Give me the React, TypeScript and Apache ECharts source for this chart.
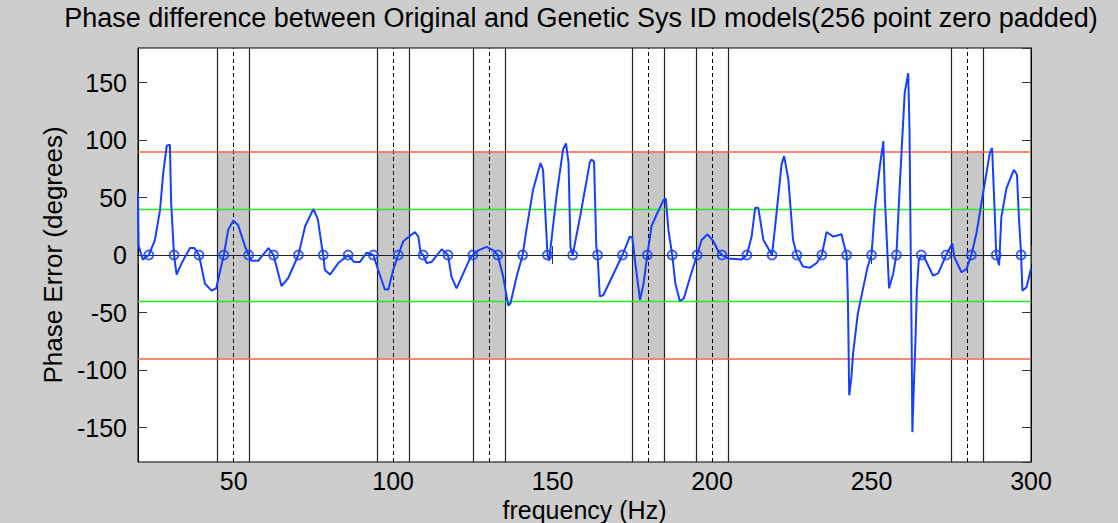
import React, { useEffect, useRef } from "react";
import * as echarts from "echarts";

const titleText = "Phase difference between Original and Genetic Sys ID models(256 point zero padded)";
const xName = "frequency (Hz)";
const yName = "Phase Error (degrees)";

const xRange = [20, 300];
const yRange = [-180, 180];
const tickStep = 50;

// centres of the shaded bands (Hz) and their half width
const bandCenters = [50, 100, 130, 180, 200, 280];
const bandHalfWidth = 5;
const bandLimit = 90;

// horizontal reference levels
const redLevels = [90, -90];
const greenLevels = [40, -40];
const zeroLevel = [0];

// frequencies of the circled points (all at 0 degrees)
const circleFreqs = [
  23.4, 31.3, 39.1, 46.9, 54.7, 62.5, 70.3, 78.1, 85.9, 93.8, 101.6, 109.4,
  117.2, 125.0, 132.8, 140.6, 148.4, 156.3, 164.1, 171.9, 179.7, 187.5, 195.3,
  203.1, 210.9, 218.8, 226.6, 234.4, 242.2, 250.0, 257.8, 265.6, 273.4, 281.3,
  289.1, 296.9,
];

// phase error curve: [frequency, degrees]
const phaseCurve: [number, number][] = [
  [20, 54], [20.2, 8], [21.5, -4], [22.5, -2], [23.4, 0], [25.3, 13], [26.9, 39],
  [27.9, 71], [29.0, 95], [30.0, 96], [30.4, 45], [31.3, 0], [32.1, -17], [33.7, -7],
  [36.3, 6], [37.7, 6], [39.1, 0], [41.0, -25], [43.1, -31], [44.5, -29], [46.9, 0],
  [48.3, 22], [49.9, 30], [51.4, 26], [53.5, 8], [54.7, 0], [55.6, -5], [57.7, -5],
  [60.9, 6], [62.5, 0], [65.0, -27], [67.1, -20], [70.3, 0], [72.4, 25], [75.0, 40],
  [76.4, 31], [77.7, 6], [78.1, 0], [78.6, -13], [80.2, -17], [82.8, -7], [85.9, 0],
  [87.7, -6], [89.6, -6], [91.7, 2], [93.8, 0], [95.3, -13], [97.4, -30], [98.5, -30],
  [100.0, -13], [101.6, 0], [103.2, 12], [106.8, 20], [107.9, 16], [108.6, 2],
  [109.4, 0], [110.5, -7], [112.1, -6], [115.2, 5], [117.2, 0], [118.3, -19],
  [119.9, -29], [122.0, -16], [124.1, -3], [125.0, 0], [126.7, 4], [129.3, 7],
  [131.4, 4], [132.8, 0], [134.5, -19], [136.1, -44], [136.8, -42], [138.7, -19],
  [140.6, 0], [141.8, 22], [143.9, 57], [146.2, 80], [147.0, 74], [147.9, 27],
  [148.4, 0], [148.9, -5], [151.2, 51], [153.3, 92], [154.2, 97], [155.0, 80],
  [155.6, 7], [156.3, 0], [158.6, 33], [161.7, 81], [162.2, 83], [163.0, 81],
  [163.7, 7], [164.1, 0], [164.8, -36], [165.9, -35], [171.9, 0], [174.2, 16],
  [175.0, 15], [175.7, -2], [177.4, -39], [178.5, -25], [179.7, 0], [181.0, 25],
  [182.6, 35], [184.8, 48], [185.5, 49], [186.3, 22], [187.5, 0], [188.5, -25],
  [189.9, -40], [191.1, -38], [193.8, -13], [195.3, 0], [196.7, 13], [198.6, 18],
  [200.4, 12], [202.0, 3], [203.1, 0], [205.0, -3], [209.3, -4], [210.9, 0],
  [212.4, 16], [213.5, 41], [214.5, 41], [216.1, 13], [218.8, 0], [220.2, 36],
  [221.8, 79], [222.6, 86], [223.9, 66], [225.4, 13], [226.6, 0], [228.5, -10],
  [230.7, -11], [232.8, -7], [234.4, 0], [235.9, 20], [238.0, 16], [240.6, 18],
  [241.1, 12], [242.2, 0], [242.6, -39], [243.0, -122], [243.7, -106], [244.2, -86],
  [245.7, -51], [247.2, -31], [248.8, -10], [250.0, 0], [251.0, 39], [252.6, 77],
  [253.7, 99], [254.2, 48], [255.5, -29], [256.8, -16], [257.8, 0], [258.9, 63],
  [260.4, 141], [261.5, 158], [261.9, 110], [262.3, 0], [262.6, -80], [262.8, -154],
  [263.2, -120], [263.8, -72], [264.2, -31], [264.8, -5], [265.6, 0], [266.5, -2],
  [269.3, -18], [270.9, -16], [273.4, 0], [275.3, 10], [276.0, -2], [278.2, -15],
  [279.8, -12], [281.3, 0], [282.9, 19], [285.0, 54], [287.1, 89], [287.8, 93],
  [288.6, 39], [289.1, 0], [290.0, -9], [290.7, 33], [292.3, 58], [294.6, 74],
  [295.6, 70], [296.2, 33], [296.9, 0], [297.3, -31], [298.6, -28], [300, -12],
];

const FONT = "'Liberation Sans', Arial, Helvetica, sans-serif";
const BLUE = "#1540ff";

export default function App() {
  const ref = useRef<HTMLDivElement>(null);

  useEffect(() => {
    if (!ref.current) return;
    const chart = echarts.init(ref.current, undefined, { renderer: "svg" });

    const axisCommon = {
      type: "value" as const,
      minInterval: tickStep,
      maxInterval: tickStep,
      splitNumber: 7,
      splitLine: { show: false },
      axisLine: { show: true, lineStyle: { color: "#000", width: 1 } },
      axisTick: { show: true, inside: true, length: 9, lineStyle: { color: "#333", width: 1 } },
    };

    const solidEdges: number[] = [];
    bandCenters.forEach((c) => {
      solidEdges.push(c - bandHalfWidth, c + bandHalfWidth);
    });

    const option: any = {
      animation: false,
      backgroundColor: "#cdcdcd",
      grid: {
        left: 138,
        right: 87,
        top: 48,
        bottom: 61,
        containLabel: false,
        outerBoundsMode: "none",
        show: true,
        backgroundColor: "#ffffff",
        borderColor: "#000",
        borderWidth: 1,
      },
      graphic: [
        {
          type: "text",
          x: 581,
          y: 18,
          style: {
            text: titleText,
            textAlign: "center",
            textVerticalAlign: "middle",
            font: `27px ${FONT}`,
            fill: "#000",
          },
        },
      ],
      xAxis: [
        {
          ...axisCommon,
          min: xRange[0],
          max: xRange[1],
          position: "bottom",
          name: xName,
          nameLocation: "middle",
          nameGap: 25,
          nameTextStyle: { fontFamily: FONT, fontSize: 25, color: "#000" },
          axisLabel: {
            show: true,
            showMinLabel: false,
            margin: 6,
            fontFamily: FONT,
            fontSize: 25,
            color: "#000",
          },
        },
        {
          ...axisCommon,
          min: xRange[0],
          max: xRange[1],
          position: "top",
          axisLabel: { show: false },
        },
      ],
      yAxis: [
        {
          ...axisCommon,
          min: yRange[0],
          max: yRange[1],
          position: "left",
          name: yName,
          nameLocation: "middle",
          nameRotate: 90,
          nameGap: 60,
          nameTextStyle: { fontFamily: FONT, fontSize: 26, color: "#000" },
          axisLabel: {
            show: true,
            showMinLabel: false,
            showMaxLabel: false,
            margin: 11,
            fontFamily: FONT,
            fontSize: 25,
            color: "#000",
          },
        },
        {
          ...axisCommon,
          min: yRange[0],
          max: yRange[1],
          position: "right",
          axisLabel: { show: false },
        },
      ],
      series: [
        {
          type: "line",
          data: [],
          silent: true,
          z: 1,
          markArea: {
            silent: true,
            itemStyle: { color: "#c8c8c8" },
            data: bandCenters.map((c) => [
              { xAxis: c - bandHalfWidth, yAxis: -bandLimit },
              { xAxis: c + bandHalfWidth, yAxis: bandLimit },
            ]),
          },
        },
        {
          type: "line",
          data: [],
          silent: true,
          z: 2,
          markLine: {
            silent: true,
            symbol: "none",
            label: { show: false },
            data: [
              ...solidEdges.map((x) => ({
                xAxis: x,
                lineStyle: { color: "#222", width: 1.2, type: "solid" },
              })),
              ...bandCenters.map((x) => ({
                xAxis: x,
                lineStyle: { color: "#000", width: 1, type: [4, 3] },
              })),
            ],
          },
        },
        {
          type: "line",
          data: [],
          silent: true,
          z: 3,
          markLine: {
            silent: true,
            symbol: "none",
            label: { show: false },
            data: [
              ...redLevels.map((y) => ({
                yAxis: y,
                lineStyle: { color: "#ff6045", width: 1.5, type: "solid" },
              })),
              ...greenLevels.map((y) => ({
                yAxis: y,
                lineStyle: { color: "#22ee22", width: 1.3, type: "solid" },
              })),
              ...zeroLevel.map((y) => ({
                yAxis: y,
                lineStyle: { color: "#222", width: 1.2, type: "solid" },
              })),
            ],
          },
        },
        {
          type: "line",
          data: phaseCurve,
          showSymbol: false,
          symbol: "none",
          silent: true,
          z: 5,
          lineStyle: { color: BLUE, width: 2 },
        },
        {
          type: "scatter",
          data: circleFreqs.map((f) => [f, 0]),
          symbol: "circle",
          symbolSize: 9,
          silent: true,
          z: 6,
          itemStyle: { color: "rgba(0,0,0,0)", borderColor: BLUE, borderWidth: 2 },
        },
      ],
    };

    chart.setOption(option);
    return () => chart.dispose();
  }, []);

  return (
    <div
      ref={ref}
      style={{ position: "fixed", left: 0, top: 0, width: 1118, height: 523 }}
    />
  );
}
